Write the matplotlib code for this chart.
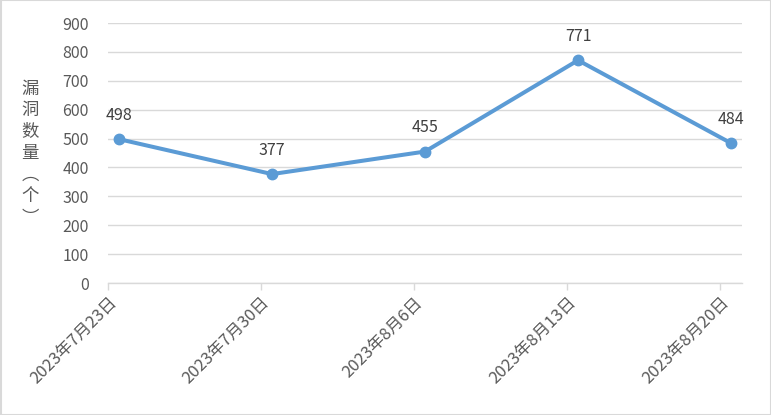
import numpy as np
import matplotlib.pyplot as plt

plt.rcParams['font.family'] = ['Noto Sans CJK SC', 'DejaVu Sans']

dates = ["2023年7月23日", "2023年7月30日", "2023年8月6日", "2023年8月13日", "2023年8月20日"]
days = [0, 7, 14, 21, 28]   # Tage seit 7/23
counts = [498, 377, 455, 771, 484]

fig = plt.figure(figsize=(7.71, 4.15), dpi=100)
ax = fig.add_axes([108/771, 1-283/415, 634/771, 260/415])

ax.plot(days, counts, color="#5B9BD5", lw=2.9, marker="o", ms=7.5, solid_capstyle="round", zorder=3)
for d, c in zip(days, counts):
    ax.annotate(str(c), (d, c), xytext=(0, 11), textcoords="offset points",
                ha="center", va="bottom", fontsize=11.5, color="#404040")

ax.set_ylim(0, 900)
ax.set_yticks(np.arange(0, 901, 100))
ax.set_xlim(-0.5, 28.5)
ax.set_xticks([d - 0.5 for d in days])
ax.set_xticklabels(dates, rotation=45, ha="right", va="top", rotation_mode="anchor",
                   fontsize=12, color="#595959")
for lab in ax.get_xticklabels():
    lab.set_transform(lab.get_transform() + plt.matplotlib.transforms.ScaledTranslation(0.18, 0.0, fig.dpi_scale_trans))

ax.grid(axis="y", color="#D9D9D9", lw=1)
ax.set_axisbelow(True)
for s in ["top", "right", "left"]:
    ax.spines[s].set_visible(False)
ax.spines["bottom"].set_color("#D9D9D9")
ax.spines["bottom"].set_linewidth(1)
ax.tick_params(axis="y", length=0, pad=14, labelsize=11.5, labelcolor="#595959")
ax.tick_params(axis="x", length=5, color="#D9D9D9", width=1, pad=3)

fig.text(30/771, 1-153/415, "漏\n洞\n数\n量\n︵\n个\n︶", ha="center", va="center",
         fontsize=12.5, color="#595959", linespacing=1.25)

fig.patches.append(plt.Rectangle((0.5/771, 0.5/415), 1-1/771, 1-1/415, transform=fig.transFigure,
                                 fill=False, edgecolor="#D9D9D9", lw=1.5))

fig.savefig("out.png", dpi=100)
